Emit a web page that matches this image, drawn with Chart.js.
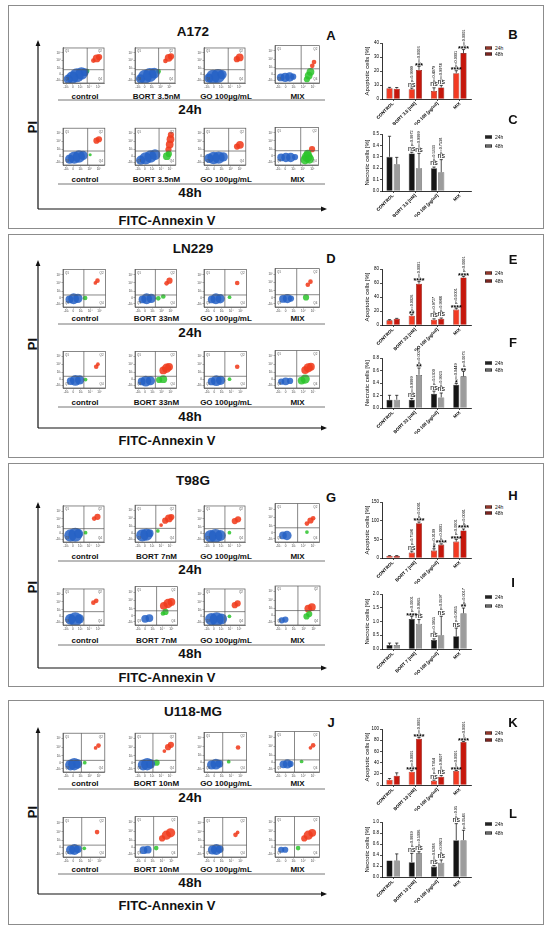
<!DOCTYPE html>
<html>
<head>
<meta charset="utf-8">
<title>Apoptosis and necrosis in glioma cell lines</title>
<script src="https://cdn.jsdelivr.net/npm/chart.js@4.4.1/dist/chart.umd.min.js"></script>
<style>
  html, body { margin: 0; padding: 0; background: #fff; }
  #fig { position: relative; width: 550px; height: 933px; overflow: hidden; font-family: "Liberation Sans", Arial, sans-serif; color: #111; }
  .panel { position: absolute; left: 8px; width: 536px; border: 1.5px solid #8c8c8c; box-sizing: border-box; }
  .t { position: absolute; white-space: nowrap; font-weight: bold; transform: translate(-50%, -50%); line-height: 1; }
  .lg { position: absolute; font-size: 5px; line-height: 1; white-space: nowrap; transform: translateY(-50%); }
  .lg i { display: inline-block; width: 7px; height: 3.5px; margin-right: 3px; vertical-align: middle; border: 0.5px solid #333; box-sizing: border-box; }
  canvas { position: absolute; }
  svg { position: absolute; left: 0; top: 0; }
</style>
</head>
<body>
<div id="fig"></div>
<script>
// ---------- data ----------
const cellLines = ['A172', 'LN229', 'T98G', 'U118-MG'];
const panelLetters = [['A', 'B', 'C'], ['D', 'E', 'F'], ['G', 'H', 'I'], ['J', 'K', 'L']];
const bortFlowLabel = ['BORT 3.5nM', 'BORT 33nM', 'BORT 7nM', 'BORT 10nM'];
const bortAxisLabel = ['BORT 3.5 [nM]', 'BORT 33 [nM]', 'BORT 7 [nM]', 'BORT 10 [nM]'];
const timePoints = ['24h', '48h'];

// apoptotic cells [%], groups: CONTROL, BORT, GO, MIX
const apo24 = [[7.7, 7.0, 5.8, 18.4], [6.7, 13.3, 7.6, 22.0], [5.4, 14.4, 19.8, 44.0], [9.5, 23.8, 7.7, 25.0]];
const apo48 = [[7.4, 20.8, 8.2, 32.8], [9.0, 59.0, 9.0, 68.0], [5.4, 93.4, 36.0, 73.7], [16.7, 82.7, 14.9, 76.8]];
const apoErr24 = [[0.6, 0.8, 2.2, 1.8], [1.0, 1.5, 1.2, 2.0], [1.0, 4.0, 5.0, 6.0], [2.0, 2.0, 1.0, 1.0]];
const apoErr48 = [[0.8, 2.5, 1.5, 2.5], [0.5, 3.0, 1.0, 1.5], [1.0, 3.0, 2.0, 4.0], [5.0, 2.0, 2.0, 1.0]];
const apoSig24 = [['', 'ns', 'ns', '****'], ['', '**', 'ns', '****'], ['', 'ns', '*', '****'], ['', '****', 'ns', '****']];
const apoSig48 = [['', '***', 'ns', '****'], ['', '****', 'ns', '****'], ['', '****', '****', '****'], ['', '****', 'ns', '****']];
const apoP24 = [['', 'p=0.9999', 'p=0.4079', 'p<0.0001'], ['', 'p=0.0026', 'p=0.9727', 'p<0.0001'],
                ['', 'p=0.7598', 'p=0.0109', 'p<0.0001'], ['', 'p<0.0001', 'p=0.7364', 'p<0.0001']];
const apoP48 = [['', 'p=0.0003', 'p=0.9974', 'p<0.0001'], ['', 'p<0.0001', 'p=0.9988', 'p<0.0001'],
                ['', 'p<0.0001', 'p<0.0001', 'p<0.0001'], ['', 'p<0.0001', 'p=0.9607', 'p<0.0001']];
const apoMax = [40, 80, 150, 100];
const apoStep = [10, 20, 50, 20];

// necrotic cells [%]
const nec24 = [[0.30, 0.33, 0.20, null], [0.133, 0.133, 0.23, 0.373], [0.145, 1.09, 0.33, 0.46], [0.30, 0.27, 0.19, 0.67]];
const nec48 = [[0.235, 0.20, 0.165, null], [0.133, 0.53, 0.17, 0.507], [0.145, 0.92, 0.50, 1.30], [0.30, 0.43, 0.26, 0.67]];
const necErr24 = [[0.18, 0.01, 0.01, null], [0.07, 0.02, 0.04, 0.02], [0.07, 0.10, 0.04, 0.30], [0.0, 0.16, 0.02, 0.30]];
const necErr48 = [[0.06, 0.13, 0.11, null], [0.07, 0.11, 0.07, 0.08], [0.07, 0.15, 0.69, 0.19], [0.12, 0.03, 0.05, 0.18]];
const necSig24 = [['', 'ns', 'ns', ''], ['', 'ns', 'ns', '*'], ['', '****', 'ns', 'ns'], ['', 'ns', 'ns', 'ns']];
const necSig48 = [['', 'ns', 'ns', ''], ['', '**', 'ns', '**'], ['', 'ns', 'ns', '**'], ['', 'ns', 'ns', '']];
const necP24 = [['', 'p=0.9972', 'p=0.5333', ''], ['', 'p=0.9999', 'p=0.5300', 'p=0.0449'],
                ['', 'p<0.0001', 'p=0.3955', 'p=0.0835'], ['', 'p=0.9939', 'p=0.6288', 'p=0.0539']];
const necP48 = [['', 'p=0.9999', 'p=0.7538', ''], ['', 'p=0.0027', 'p=0.9923', 'p=0.0073'],
                ['', 'p=0.0665', 'p=0.0597', 'p=0.0017'], ['', 'p=0.5006', 'p=0.9923', 'p=0.0543']];
const necMax = [0.5, 0.8, 2.0, 1.0];
const necStep = [0.1, 0.2, 0.5, 0.2];

// flow cytometry dot plots: populations as [annexin, PI, spread]
// order: 24h control, BORT, GO, MIX, then 48h control, BORT, GO, MIX
const flowGates = [[5.9, 3.8], [4.9, 3.2], [5.1, 3.7], [4.4, 3.0]];
const flowTickPos = [0.8, 2.4, 4.2, 6.4, 8.6];
const flowTickLabels = ['-10³', '0', '10³', '10⁴', '10⁵'];

const flowA172 = [
  { b: [[1.3, 1.1, 3], [2.3, 1.6, 4], [3.4, 2.2, 4.5], [4.5, 2.7, 4], [5.3, 3.1, 2.5]], g: [[5.9, 3.4, 1.5]], r: [[7.4, 6.4, 1.5], [8.2, 7.0, 2.5], [8.8, 7.4, 2]] },
  { b: [[1.4, 1.2, 3], [2.5, 1.8, 4.5], [3.7, 2.3, 4.5], [4.8, 2.8, 3.5]], g: [[5.9, 3.3, 1.5]], r: [[7.6, 6.3, 1.5], [8.4, 7.2, 2.5], [9.0, 7.6, 2]] },
  { b: [[1.2, 1.4, 3], [2.2, 1.8, 4.5], [3.4, 2.0, 4.5], [4.4, 2.4, 3]], g: [], r: [[8.0, 6.8, 2], [8.7, 7.3, 2.5]] },
  { b: [[1.3, 1.5, 2.5], [2.3, 1.5, 3], [3.3, 1.6, 3], [4.1, 1.7, 2]], g: [[7.2, 1.0, 2], [7.6, 2.0, 2.5], [8.0, 3.0, 2.5]], r: [[8.4, 4.6, 1.5], [8.8, 5.6, 1.5]] },
  { b: [[1.6, 1.6, 3], [2.7, 2.0, 4], [3.8, 2.3, 4], [4.8, 2.6, 3]], g: [[6.5, 2.8, 1]], r: [[8.0, 6.6, 2], [8.6, 7.0, 2]] },
  { b: [[1.4, 1.3, 3], [2.6, 1.8, 4], [3.8, 2.3, 4], [4.9, 2.8, 3.5]], g: [[7.8, 2.4, 2.5], [8.3, 3.0, 2]], r: [[8.2, 4.2, 2], [8.5, 5.6, 2.5], [8.7, 7.0, 2.5], [8.8, 8.2, 2]] },
  { b: [[1.2, 1.8, 3], [2.3, 1.9, 4], [3.5, 2.0, 4], [4.6, 2.2, 3]], g: [], r: [[7.9, 5.0, 2], [8.6, 5.5, 2.5]] },
  { b: [[1.4, 2.0, 2.5], [2.5, 2.0, 3], [3.6, 2.0, 3], [4.6, 2.1, 2]], g: [[6.9, 1.4, 3], [7.4, 2.2, 3.5], [7.9, 1.6, 3], [7.5, 3.0, 2.5]], r: [[8.5, 4.2, 2]] }
];
const flowLN229 = [
  { b: [[1.5, 2.0, 2.5], [2.5, 2.2, 3.5], [3.5, 2.3, 3]], g: [[5.2, 2.4, 1.5]], r: [[7.6, 6.4, 1.2], [8.1, 7.0, 1.5]] },
  { b: [[1.8, 2.0, 2.5], [2.8, 2.2, 3.5], [3.9, 2.3, 3]], g: [[5.6, 2.3, 1.5], [6.8, 2.8, 1.5]], r: [[7.6, 6.3, 1.5], [8.3, 7.0, 2]] },
  { b: [[1.8, 2.0, 2.5], [2.8, 2.2, 3.5], [3.8, 2.2, 3]], g: [[6.0, 2.6, 1.2]], r: [[7.8, 6.4, 1.5]] },
  { b: [[1.8, 2.1, 2.5], [2.8, 2.2, 3], [3.6, 2.2, 2]], g: [[7.0, 2.5, 2]], r: [[7.4, 5.8, 1.5], [8.0, 6.6, 1.5]] },
  { b: [[1.8, 1.9, 2.5], [2.9, 2.1, 3.5], [3.9, 2.2, 3]], g: [[5.3, 2.3, 1.2]], r: [[7.8, 5.8, 1.5], [8.2, 6.5, 1.2]] },
  { b: [[1.6, 1.8, 2.5], [2.6, 1.9, 3.5], [3.7, 2.0, 3]], g: [[5.8, 2.2, 2], [6.8, 2.4, 2.5]], r: [[6.8, 4.8, 2.5], [7.6, 5.4, 3], [8.2, 5.8, 2.5]] },
  { b: [[1.8, 1.8, 2.5], [2.9, 2.0, 3.5], [3.9, 2.1, 3]], g: [[6.0, 2.4, 1.2]], r: [[7.8, 5.8, 1.5]] },
  { b: [[1.4, 1.7, 2], [2.4, 1.8, 2.5], [3.4, 1.9, 2]], g: [[6.0, 2.0, 2.5], [6.8, 2.4, 3]], r: [[6.8, 4.8, 2.5], [7.5, 5.4, 3], [8.1, 5.7, 2.5]] }
];
const flowT98G = [
  { b: [[1.8, 1.8, 4], [3.0, 2.0, 4.5], [3.8, 2.3, 3]], g: [[5.5, 2.6, 1.2]], r: [[7.6, 6.5, 1.5], [8.4, 7.0, 2]] },
  { b: [[1.8, 1.8, 4], [2.8, 2.0, 4], [3.6, 2.4, 2.5]], g: [[5.6, 3.0, 1.2]], r: [[6.4, 4.6, 1.2], [7.4, 5.8, 2], [8.3, 6.4, 2.5], [8.9, 6.8, 2]] },
  { b: [[1.6, 1.6, 4], [2.8, 1.7, 4.5], [4.0, 1.8, 3.5]], g: [[6.2, 2.6, 1.2]], r: [[7.5, 5.8, 2], [8.3, 6.3, 2]] },
  { b: [[1.8, 1.7, 2.5], [2.7, 1.7, 3]], g: [[7.2, 2.6, 1.2]], r: [[7.2, 4.8, 1.5], [8.0, 5.6, 2], [8.6, 6.2, 1.5]] },
  { b: [[1.8, 1.6, 3.5], [3.0, 1.6, 4.5], [4.0, 1.7, 3]], g: [], r: [[7.4, 6.2, 1.5], [8.1, 6.7, 1.5]] },
  { b: [[2.4, 1.6, 2.5], [3.4, 1.8, 2.5]], g: [[6.6, 3.0, 1.5], [7.2, 3.4, 2]], r: [[6.8, 5.0, 2.5], [7.8, 5.6, 3], [8.6, 6.0, 2.5]] },
  { b: [[1.8, 1.6, 4], [3.1, 1.6, 4.5], [4.3, 1.7, 3.5]], g: [[6.2, 2.4, 1.2]], r: [[7.5, 5.5, 2], [8.2, 6.0, 2]] },
  { b: [[1.5, 1.2, 2], [2.3, 1.4, 2]], g: [[7.0, 2.2, 2], [7.6, 2.8, 2]], r: [[7.4, 4.2, 2.5], [8.2, 4.6, 2.5]] }
];
const flowU118 = [
  { b: [[1.8, 1.8, 3.5], [2.7, 2.0, 4], [3.5, 2.1, 3]], g: [[5.2, 2.4, 1.2]], r: [[7.8, 6.2, 1.2], [8.5, 6.8, 1.5]] },
  { b: [[2.0, 1.8, 3.5], [3.0, 2.0, 4], [3.8, 2.1, 3]], g: [[5.3, 2.4, 2]], r: [[7.2, 5.4, 1.2], [8.1, 6.4, 2], [8.8, 7.0, 2]] },
  { b: [[1.8, 1.8, 3], [2.8, 2.0, 3.5], [3.6, 2.1, 2.5]], g: [[5.8, 2.6, 1.2]], r: [[8.0, 6.2, 1.5]] },
  { b: [[1.9, 1.9, 2.5], [2.8, 2.0, 3], [3.5, 2.0, 2]], g: [[6.0, 2.6, 1.2]], r: [[8.0, 6.0, 1.2], [8.6, 6.6, 1.5]] },
  { b: [[1.8, 1.8, 3], [2.7, 1.9, 3.5], [3.5, 2.0, 2.5]], g: [[5.0, 2.2, 1.2]], r: [[8.0, 6.3, 1.5]] },
  { b: [[2.0, 1.7, 2.5], [3.0, 1.8, 2.5]], g: [[5.0, 2.2, 1.5]], r: [[6.4, 4.6, 2], [7.4, 5.4, 3], [8.4, 6.0, 3]] },
  { b: [[2.0, 1.8, 3], [2.9, 1.9, 3.5], [3.7, 2.0, 2.5]], g: [], r: [[7.4, 5.6, 1.5], [7.9, 6.2, 1.2]] },
  { b: [[1.4, 1.8, 2], [2.3, 1.8, 2]], g: [[5.2, 2.2, 1.5]], r: [[6.6, 4.6, 2], [7.5, 5.4, 3], [8.4, 6.0, 2.5]] }
];
const flowSets = [flowA172, flowLN229, flowT98G, flowU118];

// ---------- page layout (pixels) ----------
const layout = [
  { top: 5, bottom: 229, title: 32, letter: 35, row: [42, 123], rowH: [41, 42], label: [97, 180], line: [100, 184], time: [110, 193],
    axisTop: 40, arrowY: 209, fitc: 220, pi: 127, bar: [[43, 99], [134, 191]], barLetter: [34, 119], legend: [[48, 54], [137, 146]] },
  { top: 234, bottom: 458, title: 249, letter: 258, row: [265, 347], rowH: [42, 41], label: [319, 403], line: [324, 407], time: [333, 417],
    axisTop: 260, arrowY: 428, fitc: 440, pi: 344, bar: [[269, 325], [358, 408]], barLetter: [259, 342], legend: [[273, 281], [363, 370]] },
  { top: 463, bottom: 687, title: 481, letter: 497, row: [500, 583], rowH: [42, 42], label: [557, 641], line: [561, 645], time: [570, 654],
    axisTop: 502, arrowY: 668, fitc: 677, pi: 587, bar: [[502, 558], [594, 649]], barLetter: [495, 582], legend: [[507, 513], [597, 606]] },
  { top: 700, bottom: 925, title: 712, letter: 722, row: [728, 813], rowH: [44, 44], label: [784, 870], line: [789, 874], time: [798, 883],
    axisTop: 727, arrowY: 894, fitc: 905, pi: 812, bar: [[729, 785], [822, 877]], barLetter: [722, 813], legend: [[733, 740], [824, 833]] }
];
const flowCols = [[63, 109], [135, 180], [204, 250], [275, 322]];
const spreadPx = 1.55; // pixels per unit of population spread
const FONT = '"Liberation Sans", Arial, sans-serif';

const fig = document.getElementById('fig');
const svgNS = 'http://www.w3.org/2000/svg';
const svg = document.createElementNS(svgNS, 'svg');
svg.setAttribute('width', 550);
svg.setAttribute('height', 933);
fig.appendChild(svg);

function svgEl(tag, attrs) {
  const el = document.createElementNS(svgNS, tag);
  for (const k in attrs) el.setAttribute(k, attrs[k]);
  svg.appendChild(el);
}

function addText(txt, x, y, size, extra) {
  const d = document.createElement('div');
  d.className = 't';
  d.textContent = txt;
  d.style.left = x + 'px';
  d.style.top = y + 'px';
  d.style.fontSize = size + 'px';
  if (extra) Object.assign(d.style, extra);
  fig.appendChild(d);
}

function addLegend(x, y, color, label) {
  const d = document.createElement('div');
  d.className = 'lg';
  d.style.left = x + 'px';
  d.style.top = y + 'px';
  d.innerHTML = '<i style="background:' + color + '"></i>' + label;
  fig.appendChild(d);
}

// frame, quadrant gates and Q labels of a dot plot
const flowFrame = {
  id: 'flowFrame',
  afterDraw(chart, args, opts) {
    const { ctx, chartArea: a, scales: { x, y } } = chart;
    const gx = x.getPixelForValue(opts.gate[0]);
    const gy = y.getPixelForValue(opts.gate[1]);
    ctx.save();
    ctx.strokeStyle = '#555';
    ctx.lineWidth = 0.7;
    ctx.strokeRect(a.left, a.top, a.right - a.left, a.bottom - a.top);
    ctx.beginPath();
    ctx.moveTo(gx, a.top); ctx.lineTo(gx, a.bottom);
    ctx.moveTo(a.left, gy); ctx.lineTo(a.right, gy);
    ctx.stroke();
    ctx.fillStyle = '#555';
    ctx.font = '3px ' + FONT;
    ctx.textBaseline = 'top';
    ctx.textAlign = 'left';
    ctx.fillText('Q1', a.left + 2, a.top + 2);
    ctx.fillText('Q3', a.left + 2, a.bottom - 5);
    ctx.textAlign = 'right';
    ctx.fillText('Q2', a.right - 2, a.top + 2);
    ctx.fillText('Q4', a.right - 2, a.bottom - 5);
    ctx.restore();
  }
};

function population(list, color) {
  return {
    data: list.map(p => ({ x: p[0], y: p[1], r: p[2] * spreadPx })),
    backgroundColor: color,
    borderWidth: 0
  };
}

function flowChart(left, top, w, h, plot, gate) {
  const padL = 9, padB = 7;
  const cv = document.createElement('canvas');
  cv.width = w + padL + 2;
  cv.height = h + padB + 1;
  cv.style.left = (left - padL) + 'px';
  cv.style.top = (top - 1) + 'px';
  fig.appendChild(cv);
  const axis = (isX) => ({
    type: 'linear', min: 0, max: 10,
    afterFit: s => { if (isX) s.height = padB; else s.width = padL; },
    afterBuildTicks: s => { s.ticks = flowTickPos.map(v => ({ value: v })); },
    ticks: { font: { size: 3, family: FONT }, color: '#444', padding: 0.5, maxRotation: 0, autoSkip: false,
             callback: (v, i) => flowTickLabels[i] },
    grid: { drawOnChartArea: false, tickLength: 1.5, color: '#555', lineWidth: 0.5 },
    border: { color: '#555', width: 0.7 }
  });
  new Chart(cv, {
    type: 'bubble',
    data: { datasets: [
      population(plot.b, 'rgba(38, 98, 198, 0.85)'),
      population(plot.g, 'rgba(44, 196, 44, 0.85)'),
      population(plot.r, 'rgba(240, 60, 30, 0.88)')
    ] },
    options: {
      responsive: false, animation: false, events: [],
      layout: { padding: { top: 1, right: 2, left: 0, bottom: 0 } },
      plugins: { legend: { display: false }, tooltip: { enabled: false }, flowFrame: { gate: gate } },
      scales: { x: axis(true), y: axis(false) }
    },
    plugins: [flowFrame]
  });
}

// error whiskers, significance marks and p values above the bars
const barMarks = {
  id: 'barMarks',
  afterDatasetsDraw(chart) {
    const ctx = chart.ctx;
    const yScale = chart.scales.y;
    chart.data.datasets.forEach((ds, di) => {
      const meta = chart.getDatasetMeta(di);
      meta.data.forEach((bar, i) => {
        const v = ds.data[i];
        if (v == null) return;
        const e = ds.err[i] || 0;
        const yTop = yScale.getPixelForValue(v + e);
        ctx.save();
        ctx.strokeStyle = '#000';
        ctx.lineWidth = 0.7;
        if (e > 0) {
          ctx.beginPath();
          ctx.moveTo(bar.x, bar.y); ctx.lineTo(bar.x, yTop);
          ctx.moveTo(bar.x - 1.6, yTop); ctx.lineTo(bar.x + 1.6, yTop);
          ctx.stroke();
        }
        let y = yTop - 1;
        const sig = ds.sig[i];
        ctx.fillStyle = '#000';
        ctx.textAlign = 'center';
        ctx.textBaseline = 'bottom';
        if (sig === 'ns') {
          ctx.font = '7px ' + FONT;
          ctx.fillText('ns', bar.x, y + 1);
          y -= 5;
        } else if (sig) {
          ctx.font = 'bold 7px ' + FONT;
          ctx.fillText(sig, bar.x, y + 4);
          y -= 3;
        }
        const p = ds.pval[i];
        if (p) {
          ctx.translate(bar.x, y);
          ctx.rotate(-Math.PI / 2);
          ctx.font = '3.8px ' + FONT;
          ctx.textAlign = 'left';
          ctx.textBaseline = 'middle';
          ctx.fillText(p, 0, 0);
        }
        ctx.restore();
      });
    });
  }
};

function barChart(o) {
  const x0 = 362, axisX = 382, right = 471, padTop = 16, padRight = 4, xAxisH = 26;
  const cv = document.createElement('canvas');
  cv.width = right + padRight - x0;
  cv.height = padTop + (o.bottom - o.top) + xAxisH;
  cv.style.left = x0 + 'px';
  cv.style.top = (o.top - padTop) + 'px';
  fig.appendChild(cv);
  const set = (label, data, err, sig, pval, fill, border) => ({
    label, data, err, sig, pval,
    backgroundColor: fill, borderColor: border, borderWidth: 0.6,
    categoryPercentage: 0.65, barPercentage: 0.85
  });
  new Chart(cv, {
    type: 'bar',
    data: {
      labels: o.labels,
      datasets: [
        set('24h', o.v24, o.e24, o.s24, o.p24, o.c24, o.border),
        set('48h', o.v48, o.e48, o.s48, o.p48, o.c48, o.border)
      ]
    },
    options: {
      responsive: false, animation: false, events: [],
      layout: { padding: { top: padTop, right: padRight, left: 0, bottom: 0 } },
      plugins: { legend: { display: false }, tooltip: { enabled: false } },
      scales: {
        x: {
          afterFit: s => { s.height = xAxisH; },
          ticks: { font: { size: 4.5, weight: 'bold', family: FONT }, color: '#000', minRotation: 45, maxRotation: 45, padding: 0, autoSkip: false },
          grid: { drawOnChartArea: false, offset: false, tickLength: 2, color: '#000', lineWidth: 0.7 },
          border: { color: '#000', width: 0.8 }
        },
        y: {
          min: 0, max: o.max,
          afterFit: s => { s.width = axisX - x0; },
          ticks: { stepSize: o.step, font: { size: 4.5, family: FONT }, color: '#000', padding: 1,
                   callback: v => v.toFixed(o.decimals) },
          title: { display: true, text: o.title, font: { size: 6, family: FONT }, color: '#000', padding: { top: 2, bottom: 0 } },
          grid: { drawOnChartArea: false, tickLength: 2, color: '#000', lineWidth: 0.7 },
          border: { color: '#000', width: 0.8 }
        }
      }
    },
    plugins: [barMarks]
  });
}

// ---------- build the figure ----------
layout.forEach((L, p) => {
  const box = document.createElement('div');
  box.className = 'panel';
  box.style.top = L.top + 'px';
  box.style.height = (L.bottom - L.top) + 'px';
  fig.appendChild(box);

  addText(cellLines[p], 193, L.title, 13.5);
  addText(panelLetters[p][0], 331, L.letter, 13);
  addText('FITC-Annexin V', 167, L.fitc, 13);
  addText('PI', 32, L.pi, 13, { transform: 'translate(-50%, -50%) rotate(-90deg)' });

  // PI / FITC arrows
  svgEl('line', { x1: 38, y1: L.arrowY, x2: 38, y2: L.axisTop + 4, stroke: '#111', 'stroke-width': 1.2 });
  svgEl('polygon', { points: `38,${L.axisTop} 35.6,${L.axisTop + 6} 40.4,${L.axisTop + 6}`, fill: '#111' });
  svgEl('line', { x1: 38, y1: L.arrowY, x2: 322, y2: L.arrowY, stroke: '#111', 'stroke-width': 1.2 });
  svgEl('polygon', { points: `327,${L.arrowY} 321,${L.arrowY - 2.4} 321,${L.arrowY + 2.4}`, fill: '#111' });

  const treatments = ['control', bortFlowLabel[p], 'GO 100µg/mL', 'MIX'];
  [0, 1].forEach(r => {
    flowCols.forEach((c, ci) => {
      flowChart(c[0], L.row[r], c[1] - c[0], L.rowH[r], flowSets[p][r * 4 + ci], flowGates[p]);
      addText(treatments[ci], (c[0] + c[1]) / 2 - 1, L.label[r], 8);
    });
    svgEl('line', { x1: 58, y1: L.line[r], x2: 325, y2: L.line[r], stroke: '#777', 'stroke-width': 1 });
    addText(timePoints[r], 190, L.time[r], 13.5);
  });

  const groups = ['CONTROL', bortAxisLabel[p], 'GO 100 [µg/ml]', 'MIX'];
  barChart({
    top: L.bar[0][0], bottom: L.bar[0][1], labels: groups,
    v24: apo24[p], v48: apo48[p], e24: apoErr24[p], e48: apoErr48[p],
    s24: apoSig24[p], s48: apoSig48[p], p24: apoP24[p], p48: apoP48[p],
    c24: '#f23a22', c48: '#c5170c', border: '#6a0a04',
    max: apoMax[p], step: apoStep[p], decimals: 0, title: 'Apoptotic cells [%]'
  });
  barChart({
    top: L.bar[1][0], bottom: L.bar[1][1], labels: groups,
    v24: nec24[p], v48: nec48[p], e24: necErr24[p], e48: necErr48[p],
    s24: necSig24[p], s48: necSig48[p], p24: necP24[p], p48: necP48[p],
    c24: '#151515', c48: '#9c9c9c', border: '#333',
    max: necMax[p], step: necStep[p], decimals: 1, title: 'Necrotic cells [%]'
  });
  addText(panelLetters[p][1], 513, L.barLetter[0], 13);
  addText(panelLetters[p][2], 513, L.barLetter[1], 13);
  addLegend(485, L.legend[0][0], '#f23a22', '24h');
  addLegend(485, L.legend[0][1], '#c5170c', '48h');
  addLegend(485, L.legend[1][0], '#151515', '24h');
  addLegend(485, L.legend[1][1], '#9c9c9c', '48h');
});
</script>
</body>
</html>
